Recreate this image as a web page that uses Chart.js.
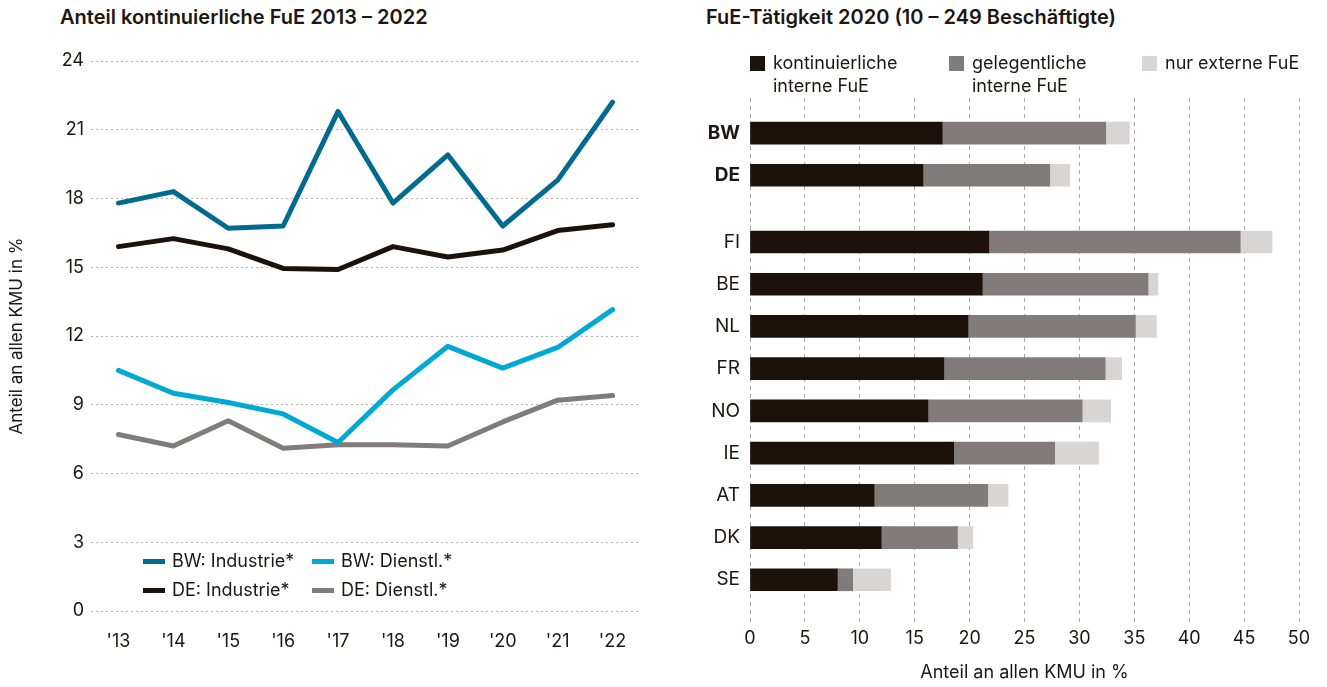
<!DOCTYPE html>
<html>
<head>
<meta charset="utf-8">
<script src="https://cdn.jsdelivr.net/npm/chart.js@4.4.0/dist/chart.umd.min.js"></script>
<style>
  body { margin: 0; background: #fff; font-family: Inter, "Noto Sans", sans-serif; color: #1e1612; }
  #wrap { position: relative; width: 1327px; height: 687px; overflow: hidden; }
  canvas { position: absolute; top: 0; }
  .title { position: absolute; top: 5px; font-size: 20px; font-weight: 600; white-space: nowrap; }
  .leg { position: absolute; font-size: 18px; white-space: nowrap; line-height: 23px; }
  .leg .sw { position: absolute; }
</style>
</head>
<body>
<div id="wrap">
  <div class="title" style="left:60px">Anteil kontinuierliche FuE 2013 – 2022</div>
  <div class="title" style="left:706px">FuE-Tätigkeit 2020 (10 – 249 Beschäftigte)</div>
  <canvas id="lineChart" width="660" height="687" style="left:0"></canvas>
  <canvas id="barChart" width="667" height="687" style="left:660px"></canvas>
</div>
<script>
// left chart: share of SMEs with continuous R&D
const years = ["'13", "'14", "'15", "'16", "'17", "'18", "'19", "'20", "'21", "'22"];
const bwIndustrie = [17.8, 18.3, 16.7, 16.8, 21.8, 17.8, 19.9, 16.8, 18.8, 22.2];
const bwDienstl = [10.5, 9.5, 9.1, 8.6, 7.35, 9.65, 11.55, 10.6, 11.5, 13.15];
const deIndustrie = [15.9, 16.25, 15.8, 14.95, 14.9, 15.9, 15.45, 15.75, 16.6, 16.85];
const deDienstl = [7.7, 7.2, 8.3, 7.1, 7.25, 7.25, 7.2, 8.25, 9.2, 9.4];

// right chart: R&D activity 2020
const countries = ['BW', 'DE', 'FI', 'BE', 'NL', 'FR', 'NO', 'IE', 'AT', 'DK', 'SE'];
const rowSlot = [0, 1, 2.58, 3.58, 4.58, 5.58, 6.58, 7.58, 8.58, 9.58, 10.58];
const kontinuierlich = [17.5, 15.75, 21.75, 21.15, 19.85, 17.65, 16.2, 18.55, 11.3, 11.95, 7.95];
const gelegentlich = [14.9, 11.55, 22.9, 15.1, 15.25, 14.7, 14.05, 9.2, 10.35, 6.95, 1.4];
const nurExtern = [2.15, 1.8, 2.9, 0.9, 1.9, 1.5, 2.6, 4.0, 1.85, 1.4, 3.45];

const textColor = '#1e1612';
Chart.defaults.font.family = 'Inter, "Noto Sans", sans-serif';
Chart.defaults.color = textColor;

const wrap = document.getElementById('wrap');

// ---------- line chart ----------
const lineSeries = [
  { label: 'BW: Industrie*', data: bwIndustrie, color: '#006b8f', lx: 143, ly: 549 },
  { label: 'BW: Dienstl.*', data: bwDienstl, color: '#00a9d4', lx: 312, ly: 549 },
  { label: 'DE: Industrie*', data: deIndustrie, color: '#1d120b', lx: 143, ly: 578 },
  { label: 'DE: Dienstl.*', data: deDienstl, color: '#817c7b', lx: 312, ly: 578 },
];

new Chart(document.getElementById('lineChart'), {
  type: 'line',
  data: {
    labels: years,
    datasets: lineSeries.map(s => ({
      label: s.label,
      data: s.data,
      borderColor: s.color,
      backgroundColor: s.color,
      borderWidth: 5,
      borderCapStyle: 'round',
      borderJoinStyle: 'round',
      pointRadius: 0,
      tension: 0,
    })),
  },
  options: {
    responsive: false,
    animation: false,
    layout: { padding: { top: 61, right: 20, left: 0, bottom: 0 } },
    plugins: { legend: { display: false }, tooltip: { enabled: false } },
    scales: {
      x: {
        offset: true,
        grid: { display: false, drawTicks: false },
        border: { display: false },
        ticks: { font: { size: 18 }, padding: 20, color: textColor },
        afterFit: s => { s.height = 76; },
      },
      y: {
        min: 0,
        max: 24,
        ticks: { stepSize: 3, font: { size: 18 }, padding: 7, color: textColor },
        grid: { color: '#b4b4b4', lineWidth: 1, drawTicks: false },
        border: { display: false, dash: [2, 3] },
        title: { display: true, text: 'Anteil an allen KMU in %', font: { size: 17 }, padding: 7, color: textColor },
        afterFit: s => { s.width = 91; },
      },
    },
  },
});

lineSeries.forEach(s => {
  const d = document.createElement('div');
  d.className = 'leg';
  d.style.left = (s.lx + 29) + 'px';
  d.style.top = s.ly + 'px';
  d.textContent = s.label;
  const sw = document.createElement('span');
  sw.className = 'sw';
  sw.style.cssText = `left:-29px;top:10px;width:22px;height:5px;background:${s.color}`;
  d.appendChild(sw);
  wrap.appendChild(d);
});

// ---------- stacked bar chart ----------
const barSeries = [
  { label: ['kontinuierliche', 'interne FuE'], data: kontinuierlich, color: '#1d120b', lx: 750 },
  { label: ['gelegentliche', 'interne FuE'], data: gelegentlich, color: '#817c7b', lx: 949 },
  { label: ['nur externe FuE'], data: nurExtern, color: '#dad5d5', lx: 1142 },
];

new Chart(document.getElementById('barChart'), {
  type: 'bar',
  data: {
    datasets: barSeries.map(s => ({
      label: s.label.join(' '),
      data: s.data.map((v, i) => ({ x: v, y: rowSlot[i] })),
      backgroundColor: s.color,
      borderWidth: 0,
      barThickness: 22,
    })),
  },
  options: {
    indexAxis: 'y',
    responsive: false,
    animation: false,
    layout: { padding: { top: 98, right: 28, left: 0, bottom: 0 } },
    plugins: { legend: { display: false }, tooltip: { enabled: false } },
    scales: {
      x: {
        stacked: true,
        min: 0,
        max: 50,
        ticks: { stepSize: 5, font: { size: 18 }, padding: 6, color: textColor },
        grid: { color: '#a9a9a9', lineWidth: 1, drawTicks: false },
        border: { display: false, dash: [4, 4] },
        title: { display: true, text: 'Anteil an allen KMU in %', font: { size: 18 }, padding: 4, color: textColor },
        afterFit: s => { s.height = 65; },
      },
      y: {
        type: 'linear',
        stacked: true,
        reverse: true,
        offset: false,
        min: -0.83,
        max: 11.58,
        grid: { display: false, drawTicks: false },
        border: { display: false },
        afterBuildTicks: s => { s.ticks = rowSlot.map(v => ({ value: v })); },
        ticks: {
          autoSkip: false,
          padding: 10,
          color: textColor,
          font: ctx => ({ size: 19, weight: ctx.index < 2 ? 'bold' : 'normal' }),
          callback: (v, i) => countries[i],
        },
        afterFit: s => { s.width = 90; },
      },
    },
  },
});

barSeries.forEach(s => {
  const d = document.createElement('div');
  d.className = 'leg';
  d.style.cssText = `left:${s.lx + 23}px;top:51px`;
  d.innerHTML = s.label.join('<br>');
  const sw = document.createElement('span');
  sw.className = 'sw';
  sw.style.cssText = `left:-23px;top:5px;width:15px;height:15px;background:${s.color}`;
  d.appendChild(sw);
  wrap.appendChild(d);
});
</script>
</body>
</html>
